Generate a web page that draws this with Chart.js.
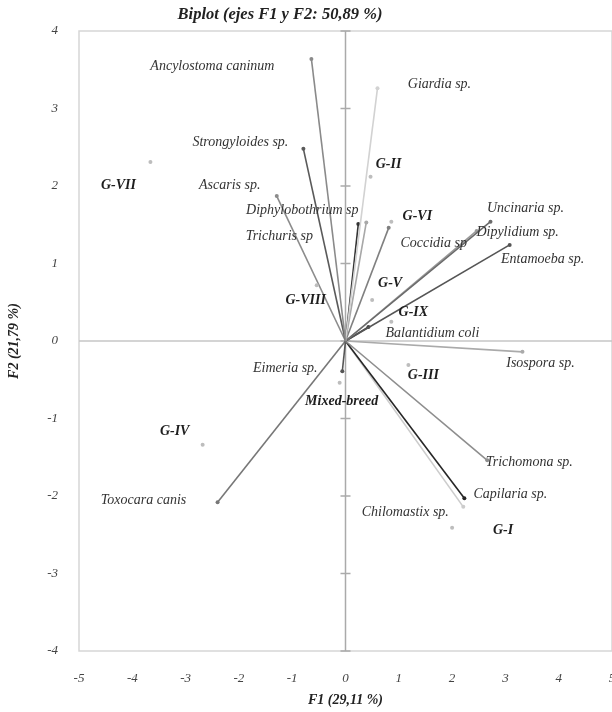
<!DOCTYPE html>
<html>
<head>
<meta charset="utf-8">
<script src="https://cdn.jsdelivr.net/npm/chart.js@4.4.1/dist/chart.umd.min.js"></script>
<style>
  html, body { margin: 0; padding: 0; background: #fff; overflow: hidden; }
  #wrap { width: 640px; height: 712px; }
</style>
</head>
<body>
<div id="wrap"><canvas id="biplot" width="640" height="712"></canvas></div>
<script>
// Variables (parasites): vector end points on F1 / F2
const variables = [
  'Ancylostoma caninum', 'Giardia sp.', 'Strongyloides sp.', 'Ascaris sp.',
  'Diphylobothrium sp', 'Trichuris sp', 'Coccidia sp', 'Uncinaria sp.',
  'Dipylidium sp.', 'Entamoeba sp.', 'Balantidium coli', 'Isospora sp.',
  'Trichomona sp.', 'Capilaria sp.', 'Chilomastix sp.', 'Eimeria sp.',
  'Toxocara canis'
];
const variableF1 = [-0.64, 0.60, -0.79, -1.29, 0.24, 0.39, 0.81, 2.72, 2.46, 3.08, 0.43, 3.32, 2.66, 2.23, 2.21, -0.06, -2.40];
const variableF2 = [3.64, 3.26, 2.48, 1.87, 1.51, 1.53, 1.46, 1.54, 1.42, 1.24, 0.18, -0.14, -1.54, -2.03, -2.14, -0.39, -2.08];

// Observations (groups)
const groups = ['G-VII', 'G-II', 'G-VI', 'G-VIII', 'G-V', 'G-IX', 'G-III', 'Mixed-breed', 'G-IV', 'G-I'];
const groupF1 = [-3.66, 0.47, 0.86, -0.54, 0.50, 0.86, 1.18, -0.11, -2.68, 2.00];
const groupF2 = [2.31, 2.12, 1.54, 0.72, 0.53, 0.25, -0.31, -0.54, -1.34, -2.41];

// Tick labels
const xTickLabels = ['-5', '-4', '-3', '-2', '-1', '0', '1', '2', '3', '4', '5'];
const yTickLabels = ['-4', '-3', '-2', '-1', '0', '1', '2', '3', '4'];

const chartTitle = 'Biplot (ejes F1 y F2: 50,89 %)';

// Styling
const lineColors = ['#8a8a8a', '#d2d2d2', '#5a5a5a', '#8c8c8c', '#333333', '#a8a8a8', '#808080',
  '#6a6a6a', '#999999', '#555555', '#444444', '#aaaaaa', '#8e8e8e', '#262626', '#cccccc', '#555555', '#777777'];
// label centre offsets from the point, in px
const variableLabelOffsets = [[-99, 7], [62, -4], [-63, -6], [-47, -11], [-56, -14], [-87, 14], [45, 15],
  [35, -13], [41, 1], [33, 14], [64, 6], [18, 11], [42, 2], [46, -4], [-58, 5], [-57, -3], [-74, -2]];
const groupLabelOffsets = [[-32, 23], [18, -12], [26, -5], [-11, 15], [18, -17], [22, -9], [15, 10], [2, 19], [-28, -13], [51, 3]];

const serif = "'Liberation Serif', 'DejaVu Serif', serif";

const datasets = variables.map((name, i) => ({
  label: name,
  data: [{ x: 0, y: 0 }, { x: variableF1[i], y: variableF2[i] }],
  showLine: true,
  borderColor: lineColors[i],
  borderWidth: 1.6,
  pointRadius: [0, 2],
  pointBackgroundColor: lineColors[i],
  pointBorderWidth: 0
}));
datasets.unshift({
  label: 'Observaciones',
  data: groups.map((g, i) => ({ x: groupF1[i], y: groupF2[i] })),
  showLine: false,
  pointRadius: 2,
  pointBackgroundColor: '#bdbdbd',
  pointBorderWidth: 0
});

// Frame, title, axes through the origin, labels
const axesPlugin = {
  id: 'axesPlugin',
  beforeDatasetsDraw(chart) {
    const { ctx, chartArea: a, scales: { x, y } } = chart;
    ctx.save();
    ctx.strokeStyle = '#d6d6d6';
    ctx.lineWidth = 1.5;
    ctx.strokeRect(a.left, a.top, a.right - a.left, a.bottom - a.top);
    const x0 = x.getPixelForValue(0);
    const y0 = y.getPixelForValue(0);
    // horizontal axis: plain light line
    ctx.strokeStyle = '#c6c6c6';
    ctx.lineWidth = 1.5;
    ctx.beginPath();
    ctx.moveTo(a.left, y0); ctx.lineTo(a.right, y0);
    ctx.stroke();
    // vertical axis with cross ticks
    ctx.strokeStyle = '#aaaaaa';
    ctx.beginPath();
    ctx.moveTo(x0, a.top); ctx.lineTo(x0, a.bottom);
    yTickLabels.forEach(t => {
      const py = y.getPixelForValue(Number(t));
      ctx.moveTo(x0 - 5, py); ctx.lineTo(x0 + 5, py);
    });
    ctx.stroke();
    // title
    ctx.fillStyle = '#222';
    ctx.font = 'italic bold 16.5px ' + serif;
    ctx.textAlign = 'center';
    ctx.textBaseline = 'middle';
    ctx.fillText(chartTitle, 280, 15);
    ctx.restore();
  },
  afterDatasetsDraw(chart) {
    const { ctx, scales: { x, y } } = chart;
    ctx.save();
    ctx.textAlign = 'center';
    ctx.textBaseline = 'middle';
    ctx.fillStyle = '#333';
    ctx.font = 'italic 14px ' + serif;
    variables.forEach((name, i) => {
      const o = variableLabelOffsets[i];
      ctx.fillText(name, x.getPixelForValue(variableF1[i]) + o[0], y.getPixelForValue(variableF2[i]) + o[1]);
    });
    ctx.fillStyle = '#1e1e1e';
    ctx.font = 'italic bold 14px ' + serif;
    groups.forEach((name, i) => {
      const o = groupLabelOffsets[i];
      ctx.fillText(name, x.getPixelForValue(groupF1[i]) + o[0], y.getPixelForValue(groupF2[i]) + o[1]);
    });
    ctx.restore();
  }
};

const tickFont = { family: serif, size: 13, style: 'italic' };

new Chart(document.getElementById('biplot'), {
  type: 'scatter',
  data: { datasets },
  options: {
    responsive: false,
    animation: false,
    devicePixelRatio: 1,
    layout: { padding: { top: 31, right: 28, bottom: 0, left: 0 } },
    scales: {
      x: {
        type: 'linear',
        min: -5,
        max: 5,
        afterBuildTicks: s => { s.ticks = xTickLabels.map(v => ({ value: Number(v) })); },
        afterFit: s => { s.height = 61; },
        grid: { display: false },
        border: { display: false },
        ticks: { color: '#444', font: tickFont, padding: 12, maxRotation: 0, callback: v => String(v) },
        title: {
          display: true,
          text: 'F1 (29,11 %)',
          color: '#222',
          font: { family: serif, size: 14, style: 'italic', weight: 'bold' },
          padding: { top: 4, bottom: 3 }
        }
      },
      y: {
        type: 'linear',
        min: -4,
        max: 4,
        afterBuildTicks: s => { s.ticks = yTickLabels.map(v => ({ value: Number(v) })); },
        afterFit: s => { s.width = 79; },
        grid: { display: false },
        border: { display: false },
        ticks: { color: '#444', font: tickFont, padding: 13, callback: v => String(v) },
        title: {
          display: true,
          text: 'F2 (21,79 %)',
          color: '#222',
          font: { family: serif, size: 14, style: 'italic', weight: 'bold' },
          padding: { top: 6, bottom: 4 }
        }
      }
    },
    plugins: {
      legend: { display: false },
      tooltip: { enabled: false },
      title: { display: false }
    }
  },
  plugins: [axesPlugin]
});
</script>
</body>
</html>
